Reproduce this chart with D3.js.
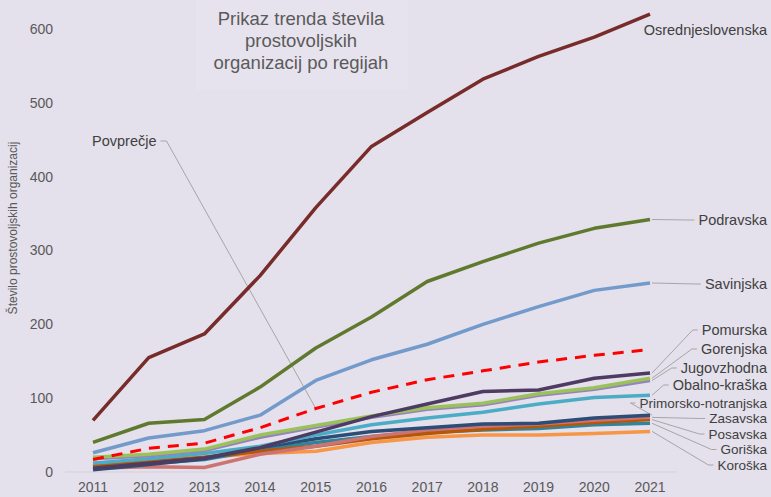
<!DOCTYPE html>
<html>
<head>
<meta charset="utf-8">
<script src="https://cdn.jsdelivr.net/npm/d3@7"></script>
<style>
  html, body { margin: 0; padding: 0; background: #e4e0ec; }
  svg { display: block; font-family: "Liberation Sans", Arial, sans-serif; }
</style>
</head>
<body>
<div id="chart"></div>
<script>
// data
var years = [2011, 2012, 2013, 2014, 2015, 2016, 2017, 2018, 2019, 2020, 2021];
var yTicks = [0, 100, 200, 300, 400, 500, 600];

var osrednjeslovenska = [70, 155, 187, 266, 358, 441, 487, 532, 563, 589, 620];
var podravska = [40, 66, 71, 115, 168, 210, 258, 285, 310, 330, 342];
var savinjska = [26, 46, 56, 77, 124, 152, 173, 200, 224, 246, 256];
var povprecje = [17, 32, 39, 60, 86, 108, 125, 137, 149, 158, 166];
var pomurska = [5, 12, 19, 33, 54, 75, 92, 109, 111, 127, 134];
var gorenjska = [20, 24, 31, 50, 63, 76, 87, 93, 106, 114, 127];
var jugovzhodna = [18, 22, 29, 47, 61, 74, 85, 91, 104, 112, 124];
var obalnoKraska = [12, 18, 25, 35, 50, 64, 73, 81, 92, 101, 104];
var primorskoNotranjska = [3, 10, 18, 33, 45, 55, 60, 65, 66, 73, 77];
var zasavska = [5, 7, 6, 24, 35, 48, 57, 62, 65, 70, 74];
var posavska = [8, 14, 20, 28, 35, 45, 52, 58, 62, 67, 71];
var goriska = [6, 11, 17, 30, 40, 48, 54, 57, 59, 64, 66];
var koroska = [12, 16, 20, 25, 28, 40, 47, 50, 50, 52, 55];

var series = [
    {name: 'Koroška', values: koroska, color: '#f79646'},
    {name: 'Goriška', values: goriska, color: '#31849b'},
    {name: 'Posavska', values: posavska, color: '#b65708'},
    {name: 'Zasavska', values: zasavska, color: '#cd7371'},
    {name: 'Primorsko-notranjska', values: primorskoNotranjska, color: '#2c4d75'},
    {name: 'Obalno-kraška', values: obalnoKraska, color: '#4bacc6'},
    {name: 'Jugovzhodna', values: jugovzhodna, color: '#9583bd'},
    {name: 'Gorenjska', values: gorenjska, color: '#9bc25a'},
    {name: 'Pomurska', values: pomurska, color: '#4d3b62'},
    {name: 'Savinjska', values: savinjska, color: '#729aca'},
    {name: 'Podravska', values: podravska, color: '#5f7a2e'},
    {name: 'Osrednjeslovenska', values: osrednjeslovenska, color: '#772c2a'}
];

// label placement (layout, not data)
var labelY = {
    'Osrednjeslovenska': 30, 'Podravska': 220, 'Savinjska': 284,
    'Pomurska': 330, 'Gorenjska': 349, 'Jugovzhodna': 368, 'Obalno-kraška': 385,
    'Primorsko-notranjska': 403, 'Zasavska': 418.5, 'Posavska': 434,
    'Goriška': 449.5, 'Koroška': 465
};

var width = 771, height = 497;

var svg = d3.select('#chart').append('svg')
    .attr('width', width)
    .attr('height', height);

svg.append('rect')
    .attr('width', width).attr('height', height)
    .attr('fill', '#e4e0ec');

var x = d3.scalePoint().domain(years).range([93, 650]),
    y = d3.scaleLinear().domain([0, 600]).range([472, 29]);

// title box
svg.append('rect')
    .attr('x', 196).attr('y', 0).attr('width', 212).attr('height', 90)
    .attr('fill', '#e7e3ee');

var title = svg.append('text')
    .attr('x', 301)
    .attr('text-anchor', 'middle')
    .style('font-size', '18.5px')
    .attr('fill', '#5a5a5a');
['Prikaz trenda števila', 'prostovoljskih', 'organizacij po regijah'].forEach(function(t, i) {
    title.append('tspan').attr('x', 301).attr('y', 25 + i*22).text(t);
});

// baseline
svg.append('line')
    .attr('x1', 65).attr('x2', 677)
    .attr('y1', y(0)).attr('y2', y(0))
    .attr('stroke', '#d3cfdb').attr('stroke-width', 1);

// axes
svg.append('g').selectAll('text')
    .data(yTicks)
    .enter().append('text')
    .attr('x', 53)
    .attr('y', function(d) { return y(d); })
    .attr('dy', '0.35em')
    .attr('text-anchor', 'end')
    .style('font-size', '14px')
    .attr('fill', '#595959')
    .text(function(d) { return d; });

svg.append('g').selectAll('text')
    .data(years)
    .enter().append('text')
    .attr('x', function(d) { return x(d); })
    .attr('y', 492)
    .attr('text-anchor', 'middle')
    .style('font-size', '14px')
    .attr('fill', '#595959')
    .text(function(d) { return d; });

svg.append('text')
    .attr('transform', 'translate(17,228) rotate(-90)')
    .attr('text-anchor', 'middle')
    .style('font-size', '12px')
    .attr('fill', '#595959')
    .text('Število prostovoljskih organizacij');

var line = d3.line()
    .x(function(d, i) { return x(years[i]); })
    .y(function(d) { return y(d); });

// leader lines
var leaders = svg.append('g')
    .attr('fill', 'none')
    .attr('stroke', '#a6a6a6')
    .attr('stroke-width', 1);

var lines = svg.append('g').attr('fill', 'none');

lines.selectAll('path.region')
    .data(series)
    .enter().append('path')
    .attr('class', 'region')
    .attr('d', function(d) { return line(d.values); })
    .attr('stroke', function(d) { return d.color; })
    .attr('stroke-width', 3.5)
    .attr('stroke-linejoin', 'round');

lines.append('path')
    .attr('d', line(povprecje))
    .attr('stroke', '#ff0000')
    .attr('stroke-width', 3)
    .attr('stroke-dasharray', '11,8');

// labels at end points
var labels = svg.append('g')
    .attr('fill', '#404040');

series.forEach(function(s) {
    var last = s.values[s.values.length - 1],
        ex = x(years[years.length - 1]) + 2,
        ey = y(last),
        ly = labelY[s.name];

    var t = labels.append('text')
        .attr('x', 767)
        .attr('y', ly)
        .attr('dy', '0.35em')
        .attr('text-anchor', 'end')
        .style('font-size', ly > 395 ? '13.5px' : '14.5px')
        .text(s.name);

    if (s.name === 'Osrednjeslovenska') return;

    var tx = t.node().getBBox().x;
    leaders.append('path')
        .attr('d', 'M' + ex + ',' + ey + 'L' + (tx - 9) + ',' + ly + 'L' + (tx - 4) + ',' + ly);
});

// Povprečje label
var avgLabel = labels.append('text')
    .attr('x', 92)
    .attr('y', 141)
    .attr('dy', '0.35em')
    .style('font-size', '14.5px')
    .text('Povprečje');
var ab = avgLabel.node().getBBox();
leaders.append('path')
    .attr('d', 'M' + (ab.x + ab.width + 4) + ',141L' + (ab.x + ab.width + 10) + ',141L' + x(2015) + ',' + y(povprecje[4]));
</script>
</body>
</html>
